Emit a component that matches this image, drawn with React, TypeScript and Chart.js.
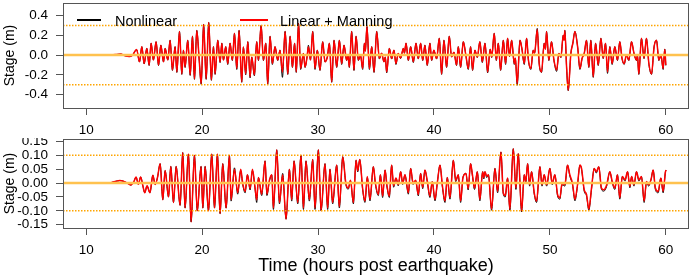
import React, { useEffect, useRef } from "react";
import { Chart, registerables } from "chart.js";

Chart.register(...registerables);

const FONT = "'Liberation Sans', Arial, Helvetica, sans-serif";

// ---------- data ----------
const seriesNames = ["Nonlinear", "Linear + Manning"];
const xTicks = [10, 20, 30, 40, 50, 60];
const topYTicks = [-0.4, -0.2, 0, 0.2, 0.4];
const bottomYTicks = [-0.15, -0.1, -0.05, 0, 0.05, 0.1, 0.15];
const topRefLevels = [0.3, -0.3];
const bottomRefLevels = [0.1, -0.1];
const xTitle = "Time (hours post earthquake)";
const yTitle = "Stage (m)";

// Top panel (hours, metres)
const topTime = [
  10, 12, 12.5, 13.0, 13.3, 13.7, 14.0, 14.35, 14.6, 14.8,
  15.0, 15.23, 15.43, 15.6, 15.8, 16.03, 16.24, 16.44, 16.67, 16.81,
  17.04, 17.24, 17.44, 17.67, 17.82, 18.05, 18.25, 18.39, 18.53, 18.76,
  18.97, 19.17, 19.34, 19.54, 19.75, 19.92, 20.13, 20.35, 20.57, 20.80,
  20.98, 21.12, 21.35, 21.55, 21.70, 21.84, 22.04, 22.21, 22.41, 22.61,
  22.79, 22.99, 23.19, 23.42, 23.56, 23.76, 23.94, 24.14, 24.28, 24.51,
  24.71, 24.86, 25.09, 25.29, 25.49, 25.66, 25.86, 26.06, 26.29, 26.52,
  26.72, 26.93, 27.16, 27.39, 27.59, 27.79, 27.98, 28.12, 28.32, 28.50,
  28.74, 28.88, 29.05, 29.17, 29.35, 29.54, 29.74, 29.94, 30.17, 30.40,
  30.60, 30.80, 30.98, 31.18, 31.38, 31.61, 31.84, 32.04, 32.24, 32.47,
  32.58, 32.70, 32.90, 33.10, 33.28, 33.48, 33.66, 33.85, 34.0, 34.08,
  34.22, 34.43, 34.63, 34.83, 35.06, 35.29, 35.48, 35.69, 35.80, 35.92,
  36.15, 36.35, 36.55, 36.72, 36.92, 37.12, 37.36, 37.45, 37.59, 37.79,
  37.99, 38.22, 38.45, 38.65, 38.85, 39.03, 39.22, 39.42, 39.65, 39.80,
  39.99, 40.23, 40.46, 40.66, 40.86, 41.09, 41.32, 41.52, 41.72, 41.95,
  42.10, 42.30, 42.53, 42.75, 42.96, 43.16, 43.33, 43.53, 43.74, 43.96,
  44.17, 44.40, 44.63, 44.85, 44.98, 45.20, 45.38, 45.55, 45.75, 45.98,
  46.18, 46.35, 46.52, 46.70, 46.93, 47.02, 47.18, 47.42, 47.58, 47.79,
  47.99, 48.15, 48.36, 48.56, 48.68, 48.91, 49.08, 49.28, 49.51, 49.62,
  49.71, 49.91, 50.14, 50.35, 50.58, 50.78, 50.95, 51.15, 51.22, 51.29,
  51.44, 51.58, 51.81, 51.98, 52.16, 52.39, 52.59, 52.78, 52.96, 53.16,
  53.36, 53.53, 53.74, 53.94, 54.17, 54.40, 54.60, 54.80, 54.97, 55.17,
  55.37, 55.60, 55.83, 56.03, 56.22, 56.41, 56.60, 56.81, 57.04, 57.25,
  57.47, 57.55, 57.67, 57.90, 58.12, 58.33, 58.54, 58.77, 58.99, 59.20,
  59.40, 59.58, 59.77, 59.91, 60.0,
];
const topLinear = [
  0, 0, 0.005, 0.01, -0.005, -0.015, 0, 0.057, -0.068, 0.085,
  -0.085, 0.068, -0.10, 0.12, -0.05, 0.135, -0.10, 0.10, -0.068, 0.068,
  -0.05, 0.15, -0.15, 0.085, -0.17, 0.24, -0.19, 0.05, -0.12, 0.15,
  -0.20, 0.19, -0.24, 0.25, -0.05, -0.29, 0.31, -0.24, 0.33, -0.25,
  0.085, -0.19, 0.15, -0.07, 0.12, -0.05, 0.085, -0.085, 0.12, -0.05,
  0.22, -0.135, 0.25, -0.27, 0.085, -0.19, 0.135, -0.22, -0.02, -0.20,
  0.135, -0.05, 0.30, -0.05, 0.12, -0.29, 0.19, -0.085, 0.085, -0.05,
  0.05, -0.17, 0.24, -0.19, 0.19, -0.12, 0.12, -0.17, 0.32, -0.135,
  0.017, -0.12, -0.02, 0.085, -0.05, 0.24, -0.135, 0.05, -0.15, 0.135,
  -0.068, -0.02, 0.12, -0.27, 0.15, -0.12, 0.15, -0.085, 0.10, -0.05,
  0, -0.12, 0.24, -0.15, 0.19, -0.05, 0, -0.135, 0.12, 0.04,
  0.29, -0.135, 0.085, -0.17, 0.24, -0.034, 0.02, -0.068, -0.02, -0.17,
  0.068, -0.034, 0.05, -0.085, 0.017, -0.03, 0.068, 0.02, 0.12, -0.05,
  0.085, -0.068, 0.12, -0.034, 0.12, -0.05, 0.10, -0.10, 0.12, -0.05,
  0.05, -0.034, 0.17, -0.19, 0.15, -0.12, 0.19, -0.017, 0.03, -0.10,
  0.085, -0.12, 0.135, 0, -0.135, 0.085, -0.15, 0.05, -0.02, 0.135,
  -0.068, 0.12, -0.17, 0.06, -0.02, 0.22, -0.05, 0.12, -0.15, 0.15,
  -0.085, 0.17, -0.01, 0.15, -0.085, -0.03, -0.29, 0.15, 0.07, -0.085,
  0.17, -0.05, -0.135, 0.05, 0.02, 0.26, -0.085, -0.17, 0.12, 0.06,
  0.24, -0.05, 0.135, -0.05, -0.15, 0.017, -0.02, 0.20, 0.15, 0.25,
  -0.12, -0.355, 0.017, 0.12, 0.24, 0.085, -0.135, -0.03, 0.017, 0.15,
  -0.12, 0.15, -0.22, 0.12, -0.10, 0.17, -0.03, 0.12, -0.17, 0.085,
  -0.085, 0.085, -0.05, 0.135, -0.03, -0.085, 0, -0.05, 0.135, 0.02,
  -0.05, 0, -0.19, 0.17, -0.03, 0.17, -0.085, -0.19, 0.085, 0.15,
  -0.05, 0, -0.135, 0.06, -0.10,
];
const topNonlinear = [
  0, 0, 0.005, 0.01, -0.005, -0.015, 0, 0.057, -0.07, 0.085,
  -0.09, 0.068, -0.105, 0.12, -0.05, 0.135, -0.105, 0.10, -0.07, 0.068,
  -0.05, 0.15, -0.155, 0.085, -0.175, 0.24, -0.195, 0.05, -0.125, 0.15,
  -0.205, 0.19, -0.245, 0.25, -0.05, -0.295, 0.31, -0.245, 0.33, -0.255,
  0.085, -0.195, 0.15, -0.075, 0.12, -0.05, 0.085, -0.095, 0.12, -0.055,
  0.22, -0.145, 0.25, -0.275, 0.08, -0.2, 0.135, -0.23, -0.02, -0.21,
  0.135, -0.055, 0.30, -0.055, 0.12, -0.295, 0.19, -0.095, 0.085, -0.055,
  0.05, -0.225, 0.24, -0.195, 0.19, -0.125, 0.12, -0.175, 0.32, -0.145,
  0.017, -0.125, -0.02, 0.1, -0.05, 0.24, -0.145, 0.05, -0.155, 0.135,
  -0.07, -0.02, 0.12, -0.275, 0.15, -0.125, 0.15, -0.095, 0.10, -0.055,
  0, -0.125, 0.24, -0.155, 0.19, -0.055, 0, -0.145, 0.12, 0.04,
  0.29, -0.145, 0.085, -0.175, 0.24, -0.04, 0.02, -0.07, -0.02, -0.18,
  0.068, -0.04, 0.05, -0.095, 0.017, -0.035, 0.068, 0.02, 0.12, -0.055,
  0.085, -0.075, 0.12, -0.04, 0.12, -0.055, 0.10, -0.105, 0.12, -0.055,
  0.05, -0.04, 0.17, -0.195, 0.15, -0.125, 0.19, -0.02, 0.03, -0.105,
  0.085, -0.125, 0.135, 0, -0.145, 0.085, -0.155, 0.05, -0.025, 0.135,
  -0.075, 0.12, -0.18, 0.06, -0.025, 0.22, -0.055, 0.12, -0.155, 0.15,
  -0.095, 0.17, -0.015, 0.15, -0.095, -0.03, -0.305, 0.15, 0.07, -0.095,
  0.17, -0.055, -0.145, 0.05, 0.02, 0.27, -0.095, -0.175, 0.12, 0.06,
  0.24, -0.055, 0.135, -0.055, -0.165, 0.017, -0.025, 0.20, 0.15, 0.25,
  -0.125, -0.36, 0.017, 0.12, 0.24, 0.085, -0.145, -0.035, 0.017, 0.15,
  -0.125, 0.15, -0.225, 0.12, -0.105, 0.17, -0.035, 0.12, -0.185, 0.085,
  -0.095, 0.085, -0.055, 0.135, -0.035, -0.095, 0, -0.055, 0.135, 0.02,
  -0.055, 0, -0.195, 0.17, -0.035, 0.17, -0.095, -0.195, 0.085, 0.15,
  -0.055, 0, -0.145, 0.06, -0.105,
];

// Bottom panel (hours, metres)
const bottomTime = [
  10, 11.9, 12.5, 12.9, 13.2, 13.5, 13.85, 14.1, 14.3, 14.5,
  14.7, 14.9, 15.05, 15.25, 15.5, 15.75, 15.95, 16.15, 16.38, 16.61,
  16.81, 17.10, 17.30, 17.53, 17.76, 18.10, 18.33, 18.53, 18.82, 19.05,
  19.34, 19.58, 19.91, 20.06, 20.26, 20.55, 20.83, 21.07, 21.32, 21.55,
  21.78, 22.07, 22.36, 22.50, 22.79, 23.07, 23.33, 23.50, 23.71, 23.91,
  24.14, 24.34, 24.55, 24.71, 24.86, 25.14, 25.43, 25.59, 25.80, 26.01,
  26.15, 26.44, 26.67, 26.95, 27.24, 27.53, 27.73, 27.93, 28.25, 28.53,
  28.74, 28.96, 29.25, 29.54, 29.74, 30.03, 30.26, 30.60, 30.83, 31.03,
  31.26, 31.61, 31.84, 32.13, 32.40, 32.61, 32.80, 33.05, 33.28, 33.42,
  33.60, 33.85, 34.05, 34.25, 34.48, 34.77, 34.95, 35.20, 35.38, 35.57,
  35.78, 35.95, 36.15, 36.35, 36.52, 36.72, 36.92, 37.13, 37.30, 37.50,
  37.79, 37.99, 38.20, 38.42, 38.65, 38.85, 39.03, 39.22, 39.42, 39.65,
  39.85, 40.09, 40.30, 40.52, 40.73, 40.95, 41.15, 41.38, 41.67, 41.88,
  42.10, 42.30, 42.50, 42.76, 42.95, 43.16, 43.32, 43.50, 43.74, 43.96,
  44.20, 44.30, 44.40, 44.55, 44.70, 44.97, 45.26, 45.49, 45.78, 45.98,
  46.15, 46.35, 46.55, 46.84, 47.07, 47.27, 47.56, 47.79, 47.92, 48.08,
  48.25, 48.42, 48.65, 48.85, 49.14, 49.32, 49.51, 49.72, 50.00, 50.20,
  50.43, 50.66, 50.86, 51.05, 51.29, 51.52, 51.72, 51.95, 52.16, 52.38,
  52.59, 52.73, 52.96, 53.16, 53.36, 53.59, 53.82, 54.00, 54.22, 54.45,
  54.65, 54.90, 55.17, 55.38, 55.60, 55.83, 56.03, 56.25, 56.48, 56.70,
  56.90, 57.05, 57.25, 57.47, 57.68, 57.90, 58.13, 58.33, 58.52, 58.72,
  58.91, 59.10, 59.34, 59.57, 59.77, 59.97, 60.03,
];
const bottomLinear = [
  0, 0, 0.006, 0.009, 0.007, 0.001, -0.007, 0.004, 0.022, -0.004,
  0.022, -0.012, -0.035, -0.01, -0.035, 0.028, -0.005, 0.02, 0.07, -0.06,
  0.045, -0.05, 0.06, -0.07, 0.06, -0.08, 0.11, -0.09, 0.105, -0.14,
  0.10, -0.10, 0.06, -0.09, 0.06, -0.10, 0.105, -0.09, 0.105, -0.11,
  0.07, -0.09, 0.10, -0.06, 0.05, -0.035, 0.05, 0, -0.03, 0.03,
  -0.02, 0.05, -0.01, -0.06, 0.02, -0.04, 0.08, -0.04, 0.01, 0.03,
  -0.09, 0.12, -0.07, 0.03, -0.13, 0.05, -0.06, 0.08, -0.07, 0.10,
  -0.09, 0.08, -0.06, 0.085, -0.09, 0.12, -0.10, 0.07, -0.09, 0.05,
  -0.07, 0.065, -0.085, 0.095, 0, -0.018, 0.01, -0.07, 0.082, 0.045,
  0.085, -0.02, -0.065, 0.024, -0.059, 0.059, 0, -0.041, 0.03, -0.047,
  0.047, -0.01, -0.047, 0.065, -0.01, 0.018, -0.005, 0.041, 0, 0.03,
  -0.035, 0.053, 0, 0.01, -0.041, 0.035, -0.015, 0.047, 0.01, -0.047,
  0.005, -0.059, 0.005, 0.065, -0.01, -0.065, 0.02, -0.053, 0.082, 0.01,
  0.03, -0.065, 0.02, 0.035, -0.02, 0.07, 0.03, -0.018, 0.041, -0.059,
  0.041, 0.02, 0.041, 0.025, 0.03, -0.094, 0.053, -0.03, 0.112, -0.035,
  -0.045, 0.018, -0.094, 0.124, -0.018, 0.106, -0.1, 0.03, 0.006, 0.07,
  -0.006, 0.041, -0.035, -0.065, 0.059, -0.006, 0.03, -0.006, 0.053, -0.001,
  0.03, -0.041, -0.053, -0.001, -0.006, 0.065, 0.03, -0.001, -0.059, -0.006,
  0.065, 0.053, -0.024, -0.041, -0.094, -0.018, 0.053, 0.041, 0.059, -0.018,
  -0.024, -0.006, 0.041, 0.006, -0.018, 0.03, -0.053, 0.024, 0.012, 0.041,
  -0.012, 0.024, -0.006, 0.041, 0.012, 0.024, -0.065, 0.006, -0.006, 0.012,
  0.047, -0.018, -0.03, 0.018, -0.03, 0.041, 0.047,
];
const bottomNonlinear = [
  0, 0, 0.006, 0.009, 0.007, 0.001, -0.007, 0.004, 0.022, -0.004,
  0.022, -0.012, -0.035, -0.01, -0.035, 0.028, -0.005, 0.02, 0.07, -0.06,
  0.045, -0.05, 0.06, -0.07, 0.06, -0.08, 0.11, -0.09, 0.105, -0.14,
  0.10, -0.10, 0.06, -0.09, 0.06, -0.10, 0.105, -0.09, 0.105, -0.11,
  0.07, -0.09, 0.10, -0.065, 0.055, -0.04, 0.045, -0.005, -0.035, 0.03,
  -0.025, 0.045, -0.015, -0.07, 0.02, -0.045, 0.08, -0.045, 0.005, 0.03,
  -0.095, 0.12, -0.075, 0.035, -0.13, 0.05, -0.065, 0.08, -0.075, 0.10,
  -0.095, 0.08, -0.065, 0.085, -0.095, 0.12, -0.10, 0.07, -0.095, 0.05,
  -0.075, 0.065, -0.09, 0.095, -0.005, -0.022, 0.008, -0.075, 0.082, 0.04,
  0.085, -0.025, -0.07, 0.02, -0.064, 0.059, -0.005, -0.045, 0.03, -0.052,
  0.047, -0.015, -0.052, 0.065, -0.015, 0.018, -0.01, 0.041, -0.005, 0.03,
  -0.04, 0.053, -0.005, 0.01, -0.046, 0.035, -0.02, 0.047, 0.005, -0.052,
  0.005, -0.064, 0.005, 0.065, -0.015, -0.07, 0.02, -0.058, 0.082, 0.005,
  0.03, -0.07, 0.02, 0.035, -0.025, 0.07, 0.025, -0.023, 0.041, -0.064,
  0.041, 0.015, 0.041, 0.02, 0.03, -0.098, 0.053, -0.035, 0.112, -0.04,
  -0.05, 0.018, -0.098, 0.124, -0.023, 0.106, -0.104, 0.03, 0.001, 0.07,
  -0.011, 0.041, -0.04, -0.07, 0.059, -0.011, 0.03, -0.011, 0.053, -0.006,
  0.03, -0.046, -0.058, -0.006, -0.011, 0.065, 0.025, -0.006, -0.064, -0.011,
  0.065, 0.05, -0.029, -0.046, -0.098, -0.023, 0.053, 0.036, 0.059, -0.023,
  -0.029, -0.011, 0.041, 0.001, -0.023, 0.03, -0.058, 0.024, 0.007, 0.041,
  -0.017, 0.024, -0.011, 0.041, 0.007, 0.024, -0.07, 0.001, -0.011, 0.012,
  0.047, -0.023, -0.035, 0.018, -0.035, 0.041, 0.047,
];

// ---------- chart building ----------
const X_MIN = 8;
const X_MAX = 62;

// plot frame + reference levels (drawn through the y scale)
const framePlugin = {
  id: "rframe",
  afterDatasetsDraw(chart: any) {
    const { ctx, chartArea: a } = chart;
    const yScale = chart.scales.y;
    const refs: number[] = chart.options.plugins.rframe.refs;
    ctx.save();
    ctx.beginPath();
    ctx.rect(a.left, a.top, a.right - a.left, a.bottom - a.top);
    ctx.clip();
    // dotted reference levels
    ctx.strokeStyle = "#FFA500";
    ctx.lineWidth = 1.5;
    ctx.setLineDash([1.5, 1.5]);
    refs.forEach((v) => {
      const y = yScale.getPixelForValue(v);
      ctx.beginPath();
      ctx.moveTo(a.left, y);
      ctx.lineTo(a.right, y);
      ctx.stroke();
    });
    // solid zero level
    ctx.setLineDash([]);
    ctx.strokeStyle = "#FFC24F";
    ctx.lineWidth = 2.5;
    const y0 = yScale.getPixelForValue(0);
    ctx.beginPath();
    ctx.moveTo(a.left, y0);
    ctx.lineTo(a.right, y0);
    ctx.stroke();
    ctx.restore();
  },
  afterDraw(chart: any) {
    const { ctx, chartArea: a } = chart;
    ctx.save();
    ctx.strokeStyle = "#555";
    ctx.lineWidth = 1;
    ctx.strokeRect(a.left + 0.5, a.top + 0.5, a.right - a.left - 1, a.bottom - a.top);
    ctx.restore();
  },
};

function makeConfig(opts: {
  times: number[];
  linear: number[];
  nonlinear: number[];
  yMin: number;
  yMax: number;
  yTicks: number[];
  decimals: number;
  refs: number[];
  xAxisHeight: number;
  padTop: number;
  showXTitle: boolean;
}): any {
  const pts = (vals: number[]) => opts.times.map((t, i) => ({ x: t, y: vals[i] }));
  const datasets: any[] = [
    {
      label: seriesNames[1],
      data: pts(opts.linear),
      borderColor: "#FF0000",
      borderWidth: 1.5,
      cubicInterpolationMode: "monotone",
      order: 1,
    },
    {
      label: seriesNames[0],
      data: pts(opts.nonlinear),
      borderColor: "#000000",
      borderWidth: 1.0,
      cubicInterpolationMode: "monotone",
      order: 2,
    },
  ];
  return {
    type: "line",
    data: { datasets },
    plugins: [framePlugin],
    options: {
      responsive: false,
      maintainAspectRatio: false,
      animation: false,
      devicePixelRatio: 1,
      layout: { padding: { top: opts.padTop, right: 3, left: 0, bottom: 0 } },
      plugins: {
        legend: { display: false },
        tooltip: { enabled: false },
        rframe: { refs: opts.refs },
      },
      elements: { point: { radius: 0 }, line: { tension: 0 } },
      scales: {
        x: {
          type: "linear",
          min: X_MIN,
          max: X_MAX,
          afterBuildTicks: (axis: any) => {
            axis.ticks = xTicks.map((v) => ({ value: v }));
          },
          afterFit: (axis: any) => {
            axis.height = opts.xAxisHeight;
            axis.paddingLeft = 0;
            axis.paddingRight = 0;
            axis.paddingTop = 0;
            axis.paddingBottom = 0;
          },
          grid: {
            display: true,
            drawOnChartArea: false,
            drawTicks: true,
            tickLength: 7,
            color: "#555",
            lineWidth: 1,
          },
          border: { display: false },
          ticks: {
            color: "#000",
            font: { family: FONT, size: 13.5 },
            padding: 7,
            maxRotation: 0,
            autoSkip: false,
            callback: (v: any) => String(v),
          },
          title: {
            display: opts.showXTitle,
            text: xTitle,
            color: "#000",
            font: { family: FONT, size: 18 },
            padding: { top: 0, bottom: 1 },
          },
        },
        y: {
          type: "linear",
          min: opts.yMin,
          max: opts.yMax,
          afterBuildTicks: (axis: any) => {
            axis.ticks = opts.yTicks.map((v) => ({ value: v }));
          },
          afterFit: (axis: any) => {
            axis.width = 63;
            axis.paddingLeft = 0;
            axis.paddingRight = 0;
            axis.paddingTop = 0;
            axis.paddingBottom = 0;
          },
          grid: {
            display: true,
            drawOnChartArea: false,
            drawTicks: true,
            tickLength: 7,
            color: "#555",
            lineWidth: 1,
          },
          border: { display: false },
          ticks: {
            color: "#000",
            font: { family: FONT, size: 13.5 },
            padding: 8,
            autoSkip: false,
            callback: (v: any) => Number(v).toFixed(opts.decimals),
          },
          title: {
            display: true,
            text: yTitle,
            color: "#000",
            font: { family: FONT, size: 14 },
            padding: { top: 2, bottom: 0 },
          },
        },
      },
    },
  };
}

function Panel(props: { top: number; height: number; config: () => any }) {
  const ref = useRef<HTMLCanvasElement | null>(null);
  useEffect(() => {
    if (!ref.current) return;
    const chart = new Chart(ref.current, props.config());
    return () => chart.destroy();
  }, []);
  return (
    <canvas
      ref={ref}
      width={692}
      height={props.height}
      style={{ position: "absolute", left: 0, top: props.top, width: 692, height: props.height }}
    />
  );
}

const legendText: React.CSSProperties = {
  position: "absolute",
  top: 13,
  fontFamily: FONT,
  fontSize: 14.5,
  lineHeight: "16px",
  color: "#000",
  whiteSpace: "nowrap",
};

export default function App() {
  return (
    <div
      style={{
        position: "absolute",
        left: 0,
        top: 0,
        width: 692,
        height: 278,
        background: "#fff",
        overflow: "hidden",
      }}
    >
      <Panel
        top={0}
        height={138}
        config={() =>
          makeConfig({
            times: topTime,
            linear: topLinear,
            nonlinear: topNonlinear,
            yMin: -0.535,
            yMax: 0.527,
            yTicks: topYTicks,
            decimals: 1,
            refs: topRefLevels,
            xAxisHeight: 30,
            padTop: 3,
            showXTitle: false,
          })
        }
      />
      <Panel
        top={138}
        height={140}
        config={() =>
          makeConfig({
            times: bottomTime,
            linear: bottomLinear,
            nonlinear: bottomNonlinear,
            yMin: -0.162,
            yMax: 0.159,
            yTicks: bottomYTicks,
            decimals: 2,
            refs: bottomRefLevels,
            xAxisHeight: 50,
            padTop: 1,
            showXTitle: true,
          })
        }
      />
      {/* legend */}
      <div style={{ position: "absolute", left: 77, top: 19, width: 24, height: 1.5, background: "#000" }} />
      <div style={{ ...legendText, left: 115 }}>{seriesNames[0]}</div>
      <div style={{ position: "absolute", left: 240, top: 19, width: 28, height: 2, background: "#FF0000" }} />
      <div style={{ ...legendText, left: 280 }}>{seriesNames[1]}</div>
    </div>
  );
}
